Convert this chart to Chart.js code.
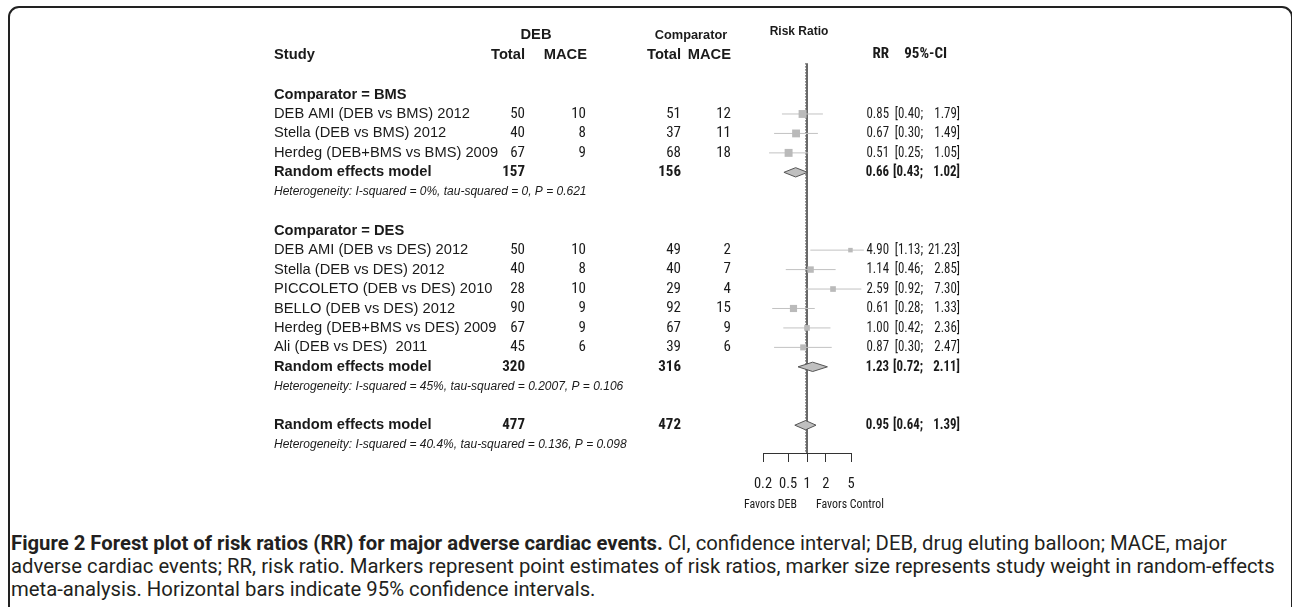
<!DOCTYPE html>
<html>
<head>
<meta charset="utf-8">
<script src="https://cdn.jsdelivr.net/npm/chart.js@4.4.1/dist/chart.umd.min.js"></script>
<style>
html,body{margin:0;padding:0;background:#fff;}
body{width:1292px;height:607px;position:relative;overflow:hidden;}
#frame{position:absolute;left:8px;top:6px;width:1281px;height:700px;border:2px solid #222;border-radius:11px;}
#plot{position:absolute;left:0;top:0;}
#cap{position:absolute;left:11px;top:532px;font-family:Roboto,sans-serif;line-height:23px;color:#231f20;white-space:nowrap;}
#cap b{font-weight:700;}
</style>
</head>
<body>
<div id="frame"></div>
<canvas id="plot" width="1292" height="520"></canvas>
<div id="cap"></div>
<script>
// study level data
const studies = ['DEB AMI (DEB vs BMS) 2012', 'Stella (DEB vs BMS) 2012', 'Herdeg (DEB+BMS vs BMS) 2009',
  'DEB AMI (DEB vs DES) 2012', 'Stella (DEB vs DES) 2012', 'PICCOLETO (DEB vs DES) 2010',
  'BELLO (DEB vs DES) 2012', 'Herdeg (DEB+BMS vs DES) 2009', 'Ali (DEB vs DES)  2011'];
const debTotal = [50, 40, 67, 50, 40, 28, 90, 67, 45];
const debMace  = [10, 8, 9, 10, 8, 10, 9, 9, 6];
const ctlTotal = [51, 37, 68, 49, 40, 29, 92, 67, 39];
const ctlMace  = [12, 11, 18, 2, 7, 4, 15, 9, 6];
const rr   = [0.85, 0.67, 0.51, 4.90, 1.14, 2.59, 0.61, 1.00, 0.87];
const rrLo = [0.40, 0.30, 0.25, 1.13, 0.46, 0.92, 0.28, 0.42, 0.30];
const rrHi = [1.79, 1.49, 1.05, 21.23, 2.85, 7.30, 1.33, 2.36, 2.47];
const weight = [15.6, 15.4, 15.8, 5.1, 10.3, 8.0, 12.8, 8.0, 9.0];

// pooled results (BMS subgroup, DES subgroup, overall)
const groupTitles = ['Comparator = BMS', 'Comparator = DES'];
const pooledDebTotal = [157, 320, 477];
const pooledCtlTotal = [156, 316, 472];
const pooledRR = [0.66, 1.23, 0.95];
const pooledLo = [0.43, 0.72, 0.64];
const pooledHi = [1.02, 2.11, 1.39];
const hetText = ['Heterogeneity: I-squared = 0%, tau-squared = 0, P = 0.621',
  'Heterogeneity: I-squared = 45%, tau-squared = 0.2007, P = 0.106',
  'Heterogeneity: I-squared = 40.4%, tau-squared = 0.136, P = 0.098'];
const xTicks = [0.2, 0.5, 1, 2, 5];
const favours = ['Favors DEB', 'Favors Control'];

// layout: row slots on the y scale
const studyRows = [0, 1, 2, 7, 8, 9, 10, 11, 12];
const pooledRows = [3, 13, 16];
const hetRows = [4, 14, 17];
const groupRows = [-1, 6];
const xLimit = 8;          // CIs beyond this get an arrow
const rowTop = -2.6, rowAxis = 17.43;
const dH = 0.24;           // diamond half height (rows)

const fmt = v => v.toFixed(2);
const COND = '"Roboto Condensed", "Liberation Sans", Arial';
const SANS = '"Liberation Sans", Arial';

const datasets = [];
// reference lines
datasets.push({data: [{x: 1, y: rowTop}, {x: 1, y: rowAxis}], borderColor: '#555', borderWidth: 1, order: 10});
datasets.push({data: [{x: pooledRR[2], y: rowTop}, {x: pooledRR[2], y: rowAxis}], borderColor: '#333', borderWidth: 1, borderDash: [1, 2], order: 10});
// confidence intervals
studies.forEach((s, i) => {
  datasets.push({data: [{x: rrLo[i], y: studyRows[i]}, {x: Math.min(rrHi[i], xLimit), y: studyRows[i]}],
    borderColor: '#c2c2c2', borderWidth: 1, order: 5});
});
// arrows for truncated CIs
datasets.push({type: 'scatter', order: 4,
  data: studies.map((s, i) => rrHi[i] > xLimit ? {x: xLimit, y: studyRows[i]} : null).filter(Boolean),
  pointStyle: 'triangle', pointRotation: 90, pointRadius: 3, backgroundColor: '#c2c2c2', borderWidth: 0});
// squares
datasets.push({type: 'scatter', order: 2,
  data: studies.map((s, i) => ({x: rr[i], y: studyRows[i]})),
  pointStyle: 'rect', pointRadius: weight.map(w => Math.sqrt(w) * 2.0 / Math.SQRT2),
  backgroundColor: '#bababa', borderWidth: 0});
// diamonds
pooledRR.forEach((v, i) => {
  const r = pooledRows[i];
  datasets.push({order: 1, fill: 'shape', backgroundColor: '#bfbfbf', borderColor: '#555', borderWidth: 1,
    data: [{x: pooledLo[i], y: r}, {x: v, y: r - dH}, {x: pooledHi[i], y: r}, {x: v, y: r + dH}, {x: pooledLo[i], y: r}]});
});
datasets.forEach(d => { d.type = d.type || 'line'; d.clip = false; d.tension = 0;
  if (d.type === 'line') d.pointRadius = 0; });

const textPlugin = {
  id: 'forestText',
  afterDraw(chart) {
    const {ctx} = chart;
    const Y = r => chart.scales.y.getPixelForValue(r);
    // squeeze > 0 narrows the text like the narrow face of the original
    const put = (t, x, r, font, align, squeeze) => {
      ctx.font = font; ctx.textAlign = align || 'left';
      if (squeeze) ctx.fillText(t, x, Y(r), ctx.measureText(t).width * squeeze);
      else ctx.fillText(t, x, Y(r));
    };
    ctx.save();
    ctx.fillStyle = '#1a1a1a';
    ctx.textBaseline = 'middle';
    const bold = 'bold 14.7px ' + SANS, reg = '14.7px ' + SANS;
    const num = '15px ' + COND, numB = 'bold 15px ' + COND;
    const sq = 0.86;
    // headers
    put('DEB', 536, -4.06, bold, 'center');
    put('Comparator', 691, -4.06, 'bold 12.8px ' + SANS, 'center');
    put('Risk Ratio', 799, -4.25, 'bold 12px ' + SANS, 'center');
    put('Study', 274, -3.05, bold);
    put('Total', 525, -3.05, bold, 'right');
    put('MACE', 587, -3.05, bold, 'right');
    put('Total', 681, -3.05, bold, 'right');
    put('MACE', 731, -3.05, bold, 'right');
    put('RR', 889, -3.05, numB, 'right');
    put('95%-CI', 947, -3.05, numB, 'right');
    groupTitles.forEach((g, i) => put(g, 274, groupRows[i], bold));
    studies.forEach((s, i) => {
      const r = studyRows[i];
      put(s, 274, r, reg);
      put(String(debTotal[i]), 525, r, num, 'right');
      put(String(debMace[i]), 586, r, num, 'right');
      put(String(ctlTotal[i]), 681, r, num, 'right');
      put(String(ctlMace[i]), 731, r, num, 'right');
      put(fmt(rr[i]), 889, r, num, 'right', sq);
      put('[' + fmt(rrLo[i]) + ';', 923, r, num, 'right', sq);
      put(fmt(rrHi[i]) + ']', 960, r, num, 'right', sq);
    });
    pooledRR.forEach((v, i) => {
      const r = pooledRows[i];
      put('Random effects model', 274, r, bold);
      put(String(pooledDebTotal[i]), 525, r, numB, 'right');
      put(String(pooledCtlTotal[i]), 681, r, numB, 'right');
      put(fmt(v), 889, r, numB, 'right', sq);
      put('[' + fmt(pooledLo[i]) + ';', 923, r, numB, 'right', sq);
      put(fmt(pooledHi[i]) + ']', 960, r, numB, 'right', sq);
      put(hetText[i], 274, hetRows[i], 'italic 12px ' + SANS);
    });
    // favours labels either side of the null line
    const x1 = chart.scales.x.getPixelForValue(1);
    put(favours[0], x1 - 10, 20.1, '13.5px ' + COND, 'right', 0.88);
    put(favours[1], x1 + 9, 20.1, '13.5px ' + COND, 'left', 0.88);
    ctx.restore();
  }
};

new Chart(document.getElementById('plot'), {
  type: 'line',
  data: {datasets},
  plugins: [textPlugin],
  options: {
    responsive: false, animation: false, events: [],
    layout: {padding: {left: 763, right: 441, top: 7, bottom: 0}},
    plugins: {legend: {display: false}, tooltip: {enabled: false}},
    scales: {
      x: {
        type: 'logarithmic', position: 'bottom', min: xTicks[0], max: xTicks[xTicks.length - 1],
        afterBuildTicks: s => { s.ticks = xTicks.map(v => ({value: v})); },
        afterFit: s => { s.height = 67; },
        ticks: {autoSkip: false, maxRotation: 0, padding: 14, color: '#1a1a1a',
          font: {family: COND, size: 14.5}, callback: v => String(v)},
        grid: {drawOnChartArea: false, drawTicks: true, tickLength: 9, color: '#333'},
        border: {display: true, color: '#333'}
      },
      y: {type: 'linear', reverse: true, min: -5.5, max: rowAxis, display: false}
    }
  }
});

// caption
const capBold = 'Figure 2 Forest plot of risk ratios (RR) for major adverse cardiac events.';
const capLines = [' CI, confidence interval; DEB, drug eluting balloon; MACE, major',
  'adverse cardiac events; RR, risk ratio. Markers represent point estimates of risk ratios, marker size represents study weight in random-effects',
  'meta-analysis. Horizontal bars indicate 95% confidence intervals.'];
const cap = document.getElementById('cap');
cap.innerHTML = '<b>' + capBold + '</b>' + capLines[0] + '<br>' + capLines[1] + '<br>' + capLines[2];
cap.style.fontSize = '100px';
const w = cap.getBoundingClientRect().width;
cap.style.fontSize = (100 * 1265 / w).toFixed(2) + 'px';
</script>
</body>
</html>
